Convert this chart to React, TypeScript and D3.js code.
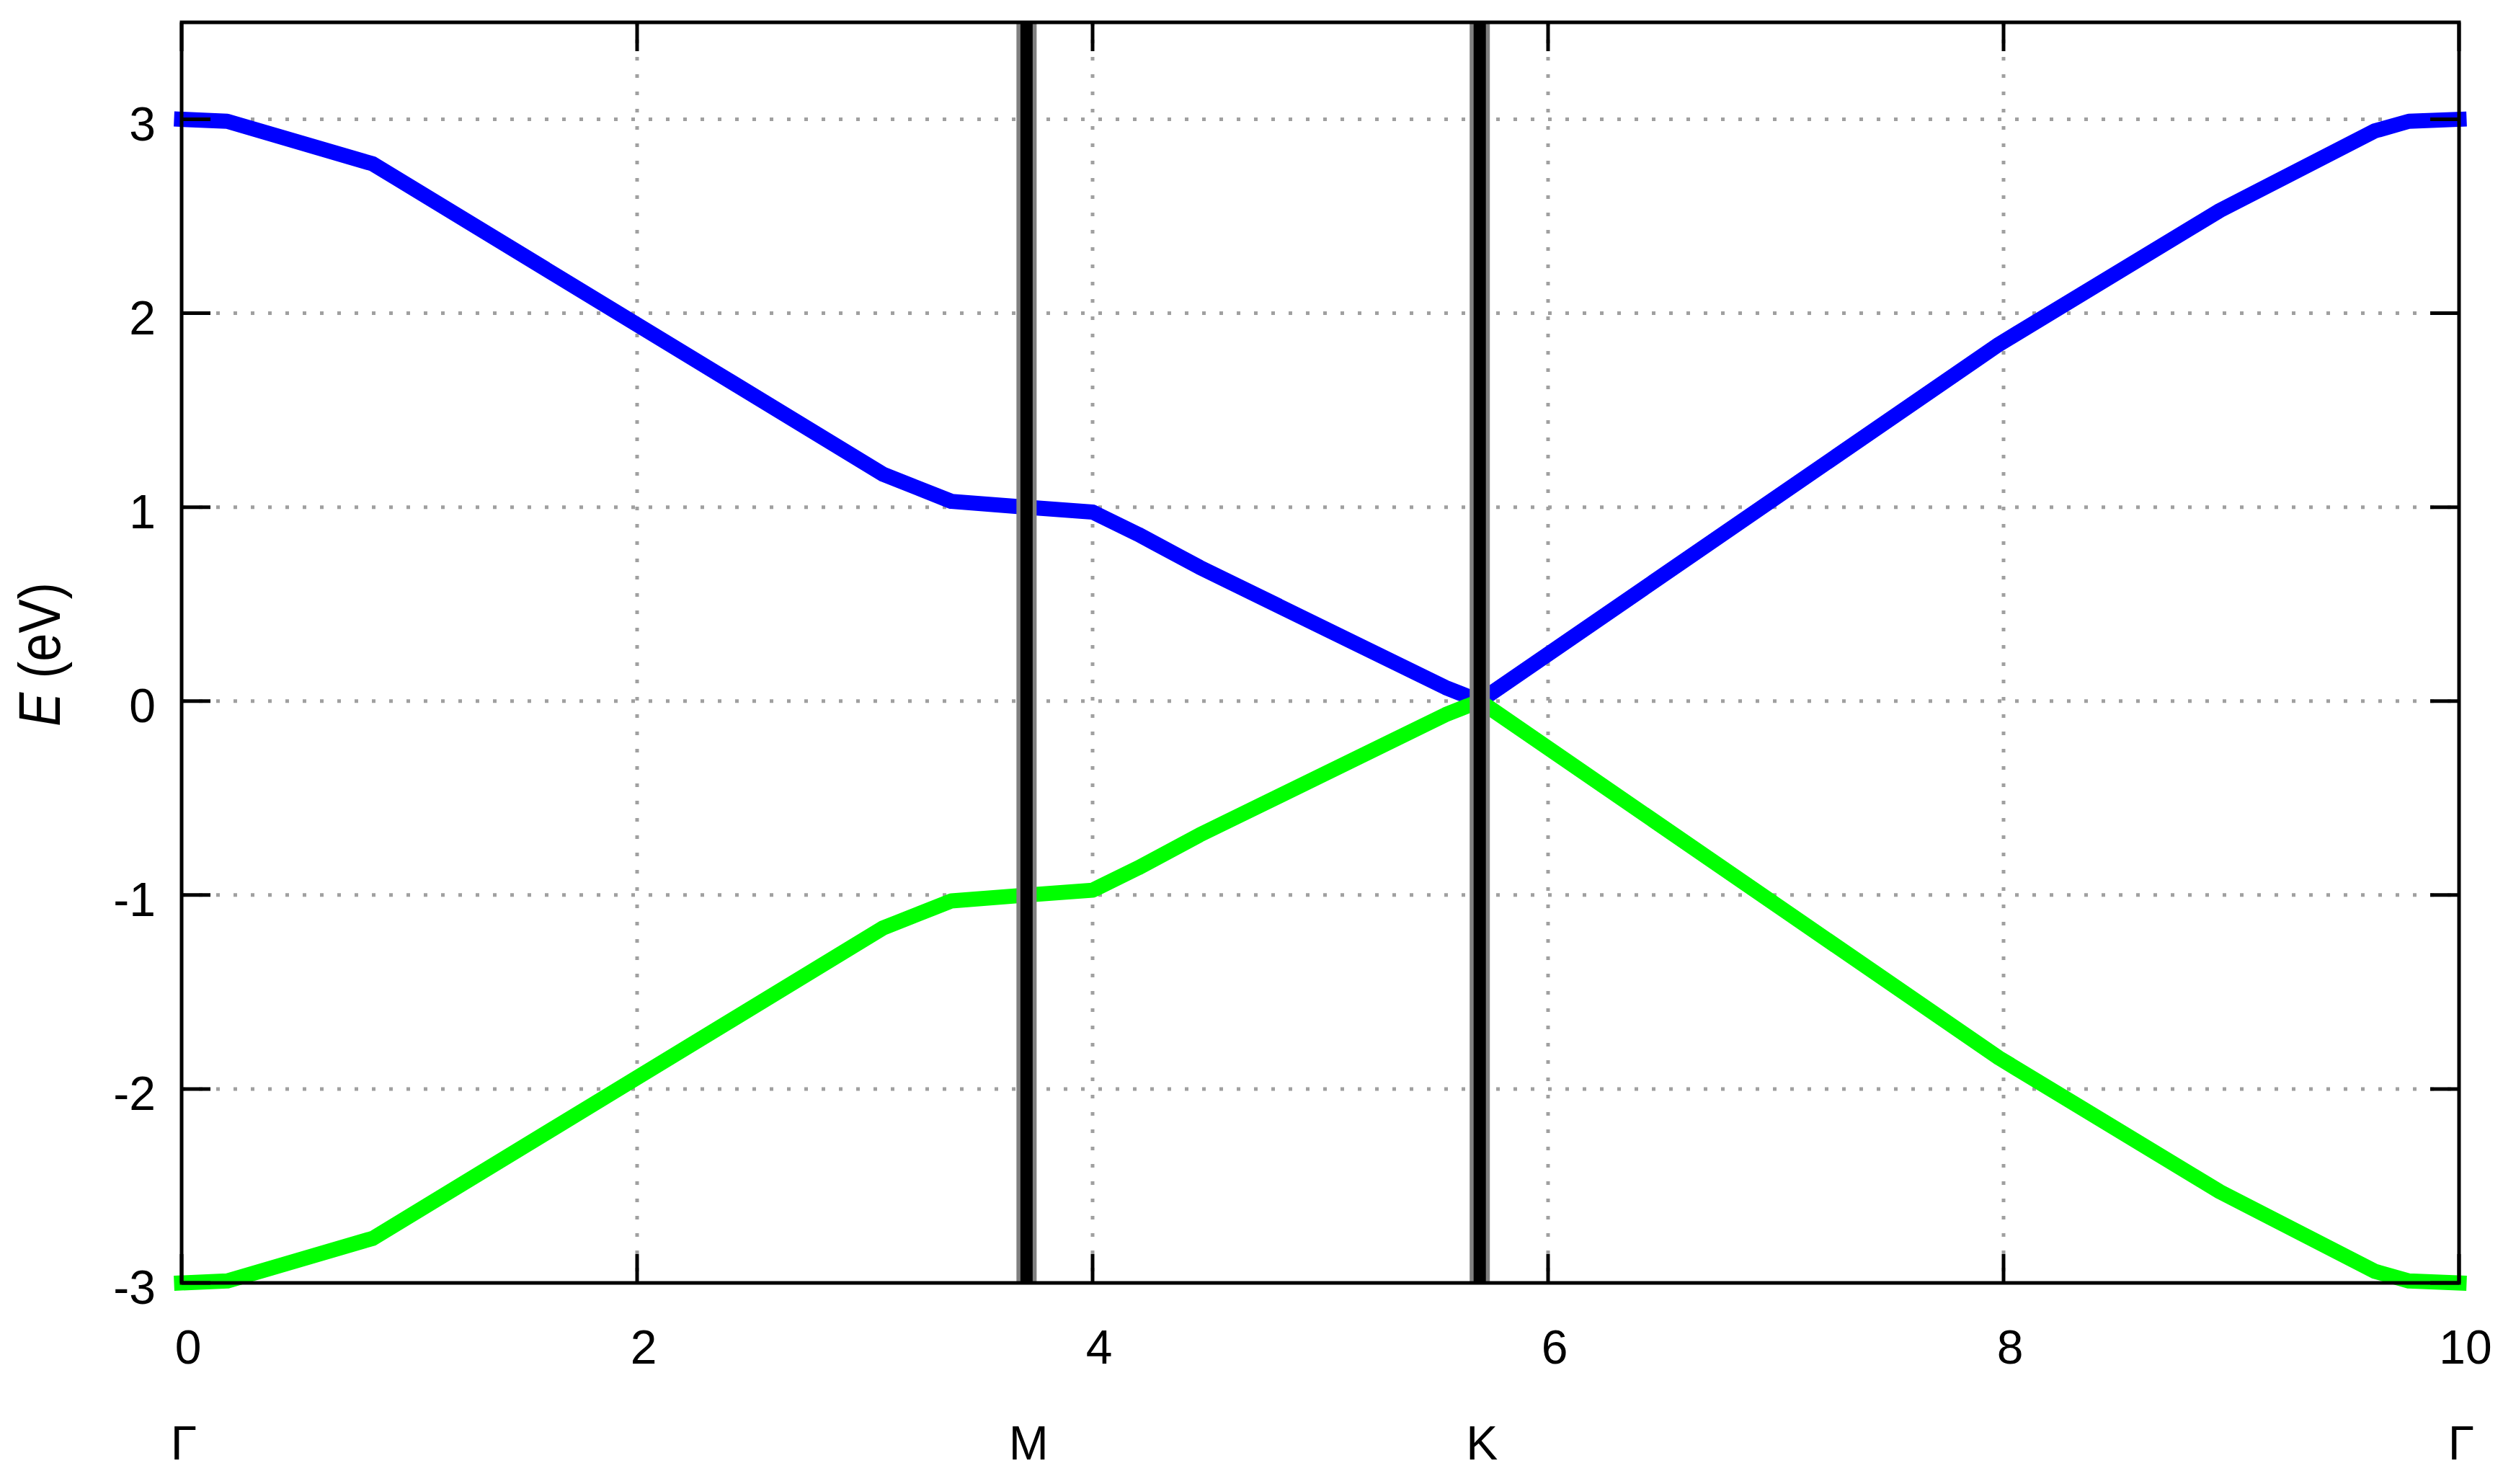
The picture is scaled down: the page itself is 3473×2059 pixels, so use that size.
import React, { useEffect, useRef } from 'react';
import * as d3 from 'd3';

// path coordinate along Γ-M-K-Γ and the two bands (eV)
const kPath = [0, 0.2, 0.84, 3.08, 3.38, 3.71, 4.0, 4.2, 4.47, 5.55, 5.7, 7.98, 8.95, 9.63, 9.78, 10];
const upperBand = [3.0, 2.99, 2.77, 1.17, 1.03, 1.0, 0.975, 0.86, 0.69, 0.07, 0.0, 1.84, 2.53, 2.94, 2.99, 3.0];
const lowerBand = [-3.0, -2.99, -2.77, -1.17, -1.03, -1.0, -0.975, -0.86, -0.69, -0.07, 0.0, -1.84, -2.53, -2.94, -2.99, -3.0];

const symmetryLines = [3.71, 5.7];
const pointLabels = ['Γ', 'M', 'K', 'Γ'];
const pointPositions = [0, 3.71, 5.7, 10];

const xTicks = [0, 2, 4, 6, 8, 10];
const yTicks = [-3, -2, -1, 0, 1, 2, 3];
const xGrid = [2, 4, 6, 8];
const yGrid = [-2, -1, 0, 1, 2, 3];

const BandPlot = () => {
  const svgRef = useRef(null);

  useEffect(() => {
    document.body.style.margin = '0';
    const width = 3473, height = 2059;
    const margin = { top: 31, right: 61, bottom: 279, left: 252 };
    const font = "'Liberation Sans', Arial, sans-serif";

    const svg = d3.select(svgRef.current);
    svg.selectAll('*').remove();
    svg.attr('width', width).attr('height', height);

    const x = d3.scaleLinear().domain([0, 10]).range([margin.left, width - margin.right]);
    const y = d3.scaleLinear().domain([-3, 3.5]).range([height - margin.bottom, margin.top]);
    const [x0, x1] = x.range();
    const [y0, y1] = y.range();

    // dotted grid
    const grid = svg.append('g')
      .attr('stroke', '#a0a0a0')
      .attr('stroke-width', 5)
      .attr('stroke-dasharray', '5 19');
    grid.selectAll('line.h').data(yGrid).join('line')
      .attr('class', 'h')
      .attr('x1', x0).attr('x2', x1)
      .attr('y1', d => y(d)).attr('y2', d => y(d));
    grid.selectAll('line.v').data(xGrid).join('line')
      .attr('class', 'v')
      .attr('y1', y1).attr('y2', y0)
      .attr('x1', d => x(d)).attr('x2', d => x(d));

    const line = d3.line<number>()
      .x((_, i) => x(kPath[i]))
      .y(d => y(d));

    svg.append('path')
      .datum(upperBand)
      .attr('d', line)
      .attr('fill', 'none')
      .attr('stroke', '#0000ff')
      .attr('stroke-width', 21)
      .attr('stroke-linejoin', 'round')
      .attr('stroke-linecap', 'square');

    svg.append('path')
      .datum(lowerBand)
      .attr('d', line)
      .attr('fill', 'none')
      .attr('stroke', '#00ff00')
      .attr('stroke-width', 21)
      .attr('stroke-linejoin', 'round')
      .attr('stroke-linecap', 'square');

    // high-symmetry markers
    const sym = svg.append('g');
    sym.selectAll('line.halo').data(symmetryLines).join('line')
      .attr('class', 'halo')
      .attr('x1', d => x(d)).attr('x2', d => x(d))
      .attr('y1', y1).attr('y2', y0)
      .attr('stroke', '#808080').attr('stroke-width', 28);
    sym.selectAll('line.core').data(symmetryLines).join('line')
      .attr('class', 'core')
      .attr('x1', d => x(d)).attr('x2', d => x(d))
      .attr('y1', y1).attr('y2', y0)
      .attr('stroke', '#000').attr('stroke-width', 17);

    // ticks on all four sides
    const tickLen = 40;
    const ticks = svg.append('g').attr('stroke', '#000').attr('stroke-width', 5);
    xTicks.forEach(t => {
      ticks.append('line').attr('x1', x(t)).attr('x2', x(t)).attr('y1', y0).attr('y2', y0 - tickLen);
      ticks.append('line').attr('x1', x(t)).attr('x2', x(t)).attr('y1', y1).attr('y2', y1 + tickLen);
    });
    yTicks.forEach(t => {
      ticks.append('line').attr('x1', x0).attr('x2', x0 + tickLen).attr('y1', y(t)).attr('y2', y(t));
      ticks.append('line').attr('x1', x1).attr('x2', x1 - tickLen).attr('y1', y(t)).attr('y2', y(t));
    });

    // frame
    svg.append('rect')
      .attr('x', x0).attr('y', y1)
      .attr('width', x1 - x0).attr('height', y0 - y1)
      .attr('fill', 'none').attr('stroke', '#000').attr('stroke-width', 5);

    const labels = svg.append('g')
      .attr('font-family', font)
      .attr('font-size', 66)
      .attr('fill', '#000');

    labels.selectAll('text.yt').data(yTicks).join('text')
      .attr('class', 'yt')
      .attr('x', x0 - 36)
      .attr('y', d => y(d) + 29)
      .attr('text-anchor', 'end')
      .text(d => d);

    labels.selectAll('text.xt').data(xTicks).join('text')
      .attr('class', 'xt')
      .attr('x', d => x(d) + 9)
      .attr('y', y0 + 112)
      .attr('text-anchor', 'middle')
      .text(d => d);

    labels.selectAll('text.kp').data(pointLabels).join('text')
      .attr('class', 'kp')
      .attr('x', (_, i) => x(pointPositions[i]) + 3)
      .attr('y', y0 + 245)
      .attr('text-anchor', 'middle')
      .text(d => d);

    const title = svg.append('text')
      .attr('transform', `translate(83,908) rotate(-90)`)
      .attr('font-family', font)
      .attr('font-size', 82)
      .attr('text-anchor', 'middle')
      .attr('textLength', 200)
      .attr('lengthAdjust', 'spacingAndGlyphs');
    title.append('tspan').attr('font-style', 'italic').text('E');
    title.append('tspan').text(' (eV)');
  }, []);

  return <svg ref={svgRef}></svg>;
};

export default function App() {
  return <BandPlot />;
}
